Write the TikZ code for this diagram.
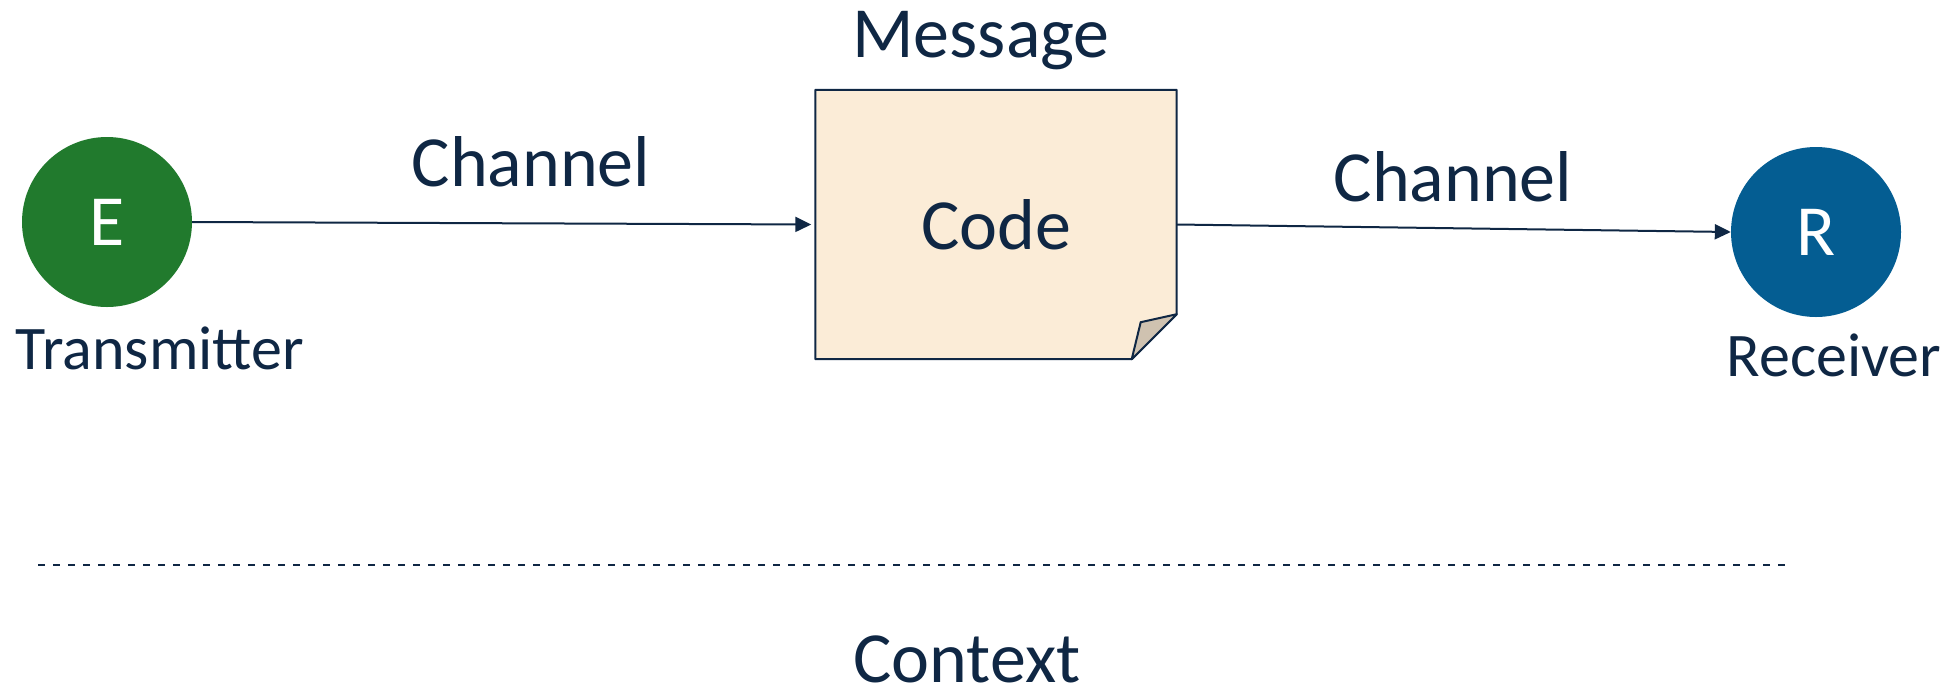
\documentclass[tikz,border=0pt]{standalone}
\usepackage{fontspec}
\setmainfont{Carlito}
\usetikzlibrary{arrows.meta}
\definecolor{ink}{HTML}{0F2744}
\definecolor{egreen}{HTML}{217A2D}
\definecolor{rblue}{HTML}{045D92}
\definecolor{notefill}{HTML}{FBECD7}
\definecolor{foldfill}{HTML}{CFC2B0}
\tikzset{
  big/.style={font=\fontsize{72}{80}\selectfont, text=ink, inner sep=0pt},
  small/.style={font=\fontsize{62}{70}\selectfont, text=ink, inner sep=0pt},
  party/.style={circle, minimum size=170pt, inner sep=0pt, draw=none, text=white, font=\fontsize{72}{80}\selectfont},
  conn/.style={draw=ink, line width=2pt, -{Triangle[length=16pt,width=15pt]}},
  outline/.style={draw=ink, line width=2pt, line join=round},
}
\begin{document}
\begin{tikzpicture}[x=1pt,y=-1pt]
\useasboundingbox (0,0) rectangle (1954,689);
% parties
\node[party, fill=egreen] (E) at (107,222) {E};
\node[party, fill=rblue] (R) at (1816,232) {R};
\node[small, anchor=base] (tx) at (160,369) {Transmitter};
\node[small, anchor=base] (rx) at (1834,376) {Receiver};
% message note
\node[big, minimum width=361pt, minimum height=269pt] (note) at (996,224.5) {};
\path[outline, fill=notefill]
  (note.north west) -- (note.north east) -- ([yshift=45pt]note.south east)
  -- ([xshift=-45pt]note.south east) -- (note.south west) -- cycle;
\coordinate (fa) at ([xshift=-45pt]note.south east);
\coordinate (fb) at ([xshift=-36pt,yshift=37pt]note.south east);
\coordinate (fc) at ([yshift=45pt]note.south east);
\path[outline, fill=foldfill] (fa) -- (fb) -- (fc) -- cycle;
\node[big] (code) at (note.center) {Code};
\node[big, anchor=base] (msg) at (981,57) {Message};
% channels
\node[big, anchor=base] (ch1) at (531,186) {Channel};
\node[big, anchor=base] (ch2) at (1453,201) {Channel};
\draw[conn, shorten >=4pt] (E.east) -- (note.west);
\draw[conn] (note.east) -- (R.west);
% context
\coordinate (dl) at (38,565);
\coordinate (dr) at (1792,565);
\draw[ink, line width=2pt, dash pattern=on 7pt off 8pt] (dl) -- (dr);
\node[big, anchor=base] (ctx) at (967,682) {Context};
\end{tikzpicture}
\end{document}
